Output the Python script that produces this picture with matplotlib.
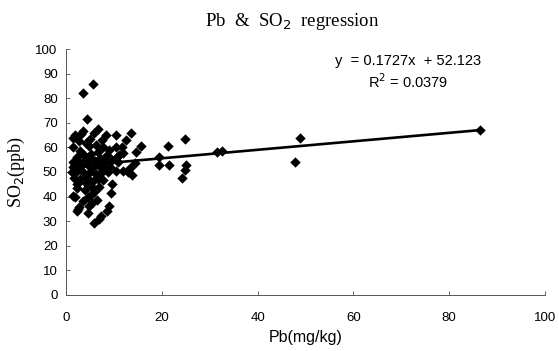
import numpy as np
import matplotlib
matplotlib.use('Agg')
import matplotlib.pyplot as plt

# Pb (mg/kg) vs SO2 (ppb)
pb = [86.5, 48.9, 47.9, 32.5, 31.5, 24.8, 25.0, 24.8, 24.3, 21.2, 21.6, 19.5, 19.5,
      15.6, 14.6, 13.6, 14.5, 13.4, 13.8, 12.0, 11.8, 12.0, 12.9,
      3.5, 5.6, 4.4, 1.9, 3.1, 3.6, 6.6, 5.9, 8.4, 10.4, 12.5, 5.0, 4.2, 2.8, 7.6,
      1.5, 3.0, 4.8, 6.2, 7.8, 9.0, 10.5, 2.2, 3.8, 5.3, 6.7, 8.5, 11.0,
      1.4, 2.6, 4.0, 5.0, 6.0, 7.2, 8.2, 9.6, 10.8, 1.8, 3.2, 4.6, 5.6, 6.8, 7.8, 9.2,
      1.2, 2.4, 3.8, 5.0, 6.2, 7.4, 8.8, 10.5, 1.6, 3.0, 4.4, 5.6, 6.6,
      2.2, 4.2, 5.4, 7.7, 9.7, 7.0, 2.4, 4.0, 5.8, 1.5, 4.5, 5.2, 6.4, 9.4,
      3.5, 5.5, 2.8, 2.4, 4.9, 4.7, 9.0, 7.3, 6.95, 5.9, 8.5, 10.6, 1.5, 1.5, 1.9, 2.5]
so2 = [67.0, 63.8, 54.0, 58.5, 58.0, 63.5, 52.8, 51.0, 47.7, 60.7, 52.8, 56.3, 52.8,
       60.6, 58.0, 65.7, 53.5, 51.8, 48.8, 57.6, 60.3, 50.4, 50.1,
       82.0, 85.8, 71.4, 64.9, 65.6, 66.5, 67.6, 66.0, 65.2, 65.2, 63.0, 63.5, 62.0, 62.5, 63.0,
       60.0, 58.5, 60.5, 61.0, 60.0, 59.0, 60.0, 56.0, 57.0, 57.5, 58.0, 57.0, 57.0,
       54.0, 54.5, 55.0, 55.5, 54.5, 55.5, 54.0, 55.0, 54.0, 52.0, 52.5, 53.0, 52.0, 52.5, 51.5, 52.0,
       50.0, 50.5, 49.5, 50.0, 49.0, 49.5, 50.0, 50.5, 47.5, 47.0, 47.5, 46.5, 47.0,
       45.0, 45.5, 44.0, 46.7, 45.1, 44.0, 43.4, 42.5, 42.0, 40.2, 40.0, 40.7, 38.5, 41.3,
       38.0, 37.5, 35.6, 34.3, 36.3, 33.4, 36.2, 32.1, 30.8, 29.1, 34.0, 56.0, 52.0, 64.0, 40.0, 35.0]

slope = 0.1727
intercept = 52.123
r2 = 0.0379

x_ticks = [0, 20, 40, 60, 80, 100]
y_ticks = list(range(0, 101, 10))

fig = plt.figure(figsize=(5.59, 3.51), dpi=100)
ax = fig.add_axes([0.118, 0.160, 0.857, 0.700])

ax.scatter(pb, so2, marker='D', s=28, color='black', zorder=3, linewidths=0)

xl = np.array([min(pb), max(pb)])
ax.plot(xl, slope * xl + intercept, color='black', lw=1.9, zorder=4)

ax.set_xlim(0, 100)
ax.set_ylim(0, 100)
ax.set_xticks(x_ticks)
ax.set_yticks(y_ticks)
ax.tick_params(direction='in', length=3, width=0.6, color='#555555',
               labelsize=9.5, pad=6)
for lab in ax.get_xticklabels() + ax.get_yticklabels():
    lab.set_fontfamily('Liberation Sans')
ax.tick_params(axis='x', pad=12)

for s in ['top', 'right']:
    ax.spines[s].set_visible(False)
for s in ['left', 'bottom']:
    ax.spines[s].set_linewidth(0.7)
    ax.spines[s].set_color('#555555')

ax.set_xlabel('Pb(mg/kg)', fontsize=11.5, family='Liberation Sans', labelpad=5)
ax.set_ylabel('SO$_2$(ppb)', fontsize=13, family='Liberation Serif', labelpad=6)

fig.text(0.522, 0.94, 'Pb  &  SO$_2$  regression', ha='center', va='center',
         fontsize=13.5, family='Liberation Serif')

ax.text(71.5, 95.2, 'y  = 0.1727x  + 52.123', ha='center', va='center',
        fontsize=10.5, family='Liberation Sans')
ax.text(71.5, 86.8, 'R$^2$ = 0.0379', ha='center', va='center',
        fontsize=10.5, family='Liberation Sans')

fig.savefig('out.png', dpi=100)
